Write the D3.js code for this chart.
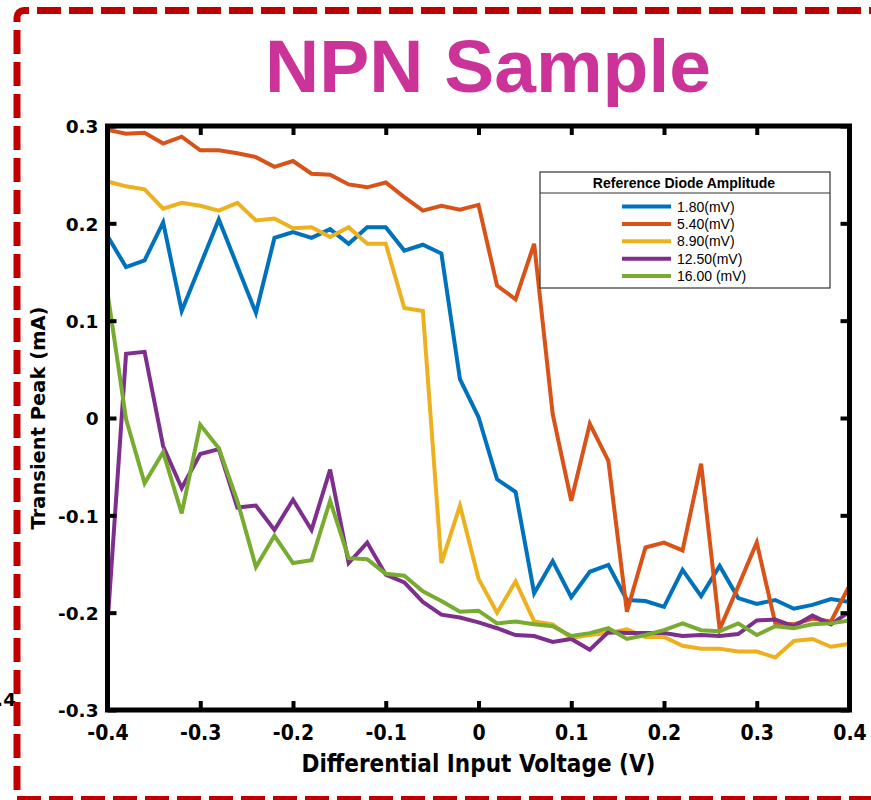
<!DOCTYPE html>
<html>
<head>
<meta charset="utf-8">
<title>NPN Sample</title>
<script src="https://cdn.jsdelivr.net/npm/d3@7/dist/d3.min.js"></script>
<style>
  html, body { margin: 0; padding: 0; background: #fff; }
  svg { display: block; }
</style>
</head>
<body>
<svg id="chart" width="871" height="800"></svg>
<script>
// Differential input voltage sweep (V)
const voltages = [
  -0.40, -0.38, -0.36, -0.34, -0.32, -0.30, -0.28, -0.26, -0.24, -0.22,
  -0.20, -0.18, -0.16, -0.14, -0.12, -0.10, -0.08, -0.06, -0.04, -0.02,
   0.00,  0.02,  0.04,  0.06,  0.08,  0.10,  0.12,  0.14,  0.16,  0.18,
   0.20,  0.22,  0.24,  0.26,  0.28,  0.30,  0.32,  0.34,  0.36,  0.38, 0.40
];

// Transient peak (mA) for each reference diode amplitude
const peak_1_80 = [
  0.187, 0.155, 0.162, 0.201, 0.110, 0.157, 0.204, 0.156, 0.108, 0.185,
  0.191, 0.185, 0.194, 0.179, 0.196, 0.196, 0.172, 0.178, 0.169, 0.040,
  0.001, -0.063, -0.076, -0.180, -0.147, -0.184, -0.158, -0.151, -0.187, -0.188,
  -0.194, -0.156, -0.183, -0.152, -0.185, -0.191, -0.187, -0.196, -0.192, -0.186, -0.189
];
const peak_5_40 = [
  0.296, 0.292, 0.293, 0.282, 0.289, 0.275, 0.275, 0.272, 0.268, 0.258,
  0.264, 0.251, 0.250, 0.240, 0.237, 0.242, 0.227, 0.213, 0.218, 0.214,
  0.219, 0.136, 0.122, 0.179, 0.004, -0.085, -0.006, -0.044, -0.199, -0.133,
  -0.128, -0.136, -0.047, -0.217, -0.173, -0.128, -0.211, -0.212, -0.206, -0.209, -0.172
];
const peak_8_90 = [
  0.243, 0.238, 0.235, 0.215, 0.221, 0.218, 0.213, 0.221, 0.203, 0.205,
  0.195, 0.196, 0.186, 0.196, 0.179, 0.179, 0.113, 0.110, -0.149, -0.090,
  -0.165, -0.200, -0.168, -0.209, -0.212, -0.226, -0.223, -0.221, -0.217, -0.225,
  -0.225, -0.234, -0.237, -0.237, -0.240, -0.240, -0.246, -0.229, -0.227, -0.235, -0.232
];
const peak_12_50 = [
  -0.212, 0.066, 0.068, -0.029, -0.072, -0.037, -0.032, -0.092, -0.090, -0.115,
  -0.084, -0.115, -0.053, -0.149, -0.128, -0.161, -0.169, -0.189, -0.202, -0.205,
  -0.210, -0.216, -0.223, -0.224, -0.230, -0.227, -0.238, -0.220, -0.221, -0.221,
  -0.221, -0.224, -0.223, -0.224, -0.222, -0.208, -0.207, -0.214, -0.203, -0.212, -0.199
];
const peak_16_00 = [
  0.129, -0.001, -0.067, -0.035, -0.098, -0.007, -0.031, -0.085, -0.153, -0.121,
  -0.149, -0.146, -0.085, -0.144, -0.145, -0.160, -0.162, -0.178, -0.188, -0.199,
  -0.198, -0.211, -0.209, -0.212, -0.214, -0.224, -0.221, -0.216, -0.227, -0.223,
  -0.218, -0.211, -0.218, -0.219, -0.211, -0.223, -0.214, -0.216, -0.212, -0.211, -0.208
];

const seriesLabels = ["1.80(mV)", "5.40(mV)", "8.90(mV)", "12.50(mV)", "16.00 (mV)"];
const seriesValues = [peak_1_80, peak_5_40, peak_8_90, peak_12_50, peak_16_00];
const seriesColors = ["#0072BD", "#D95319", "#EDB120", "#7E2F8E", "#77AC30"];

const xTicks = [-0.4, -0.3, -0.2, -0.1, 0, 0.1, 0.2, 0.3, 0.4];
const yTicks = [-0.3, -0.2, -0.1, 0, 0.1, 0.2, 0.3];

const titleText = "NPN Sample";
const xLabel = "Differential Input Voltage (V)";
const yLabel = "Transient Peak (mA)";
const legendTitle = "Reference Diode Amplitude";

// ---- layout ----
const svg = d3.select("#chart");
const plot = { left: 107.5, right: 849.5, top: 126, bottom: 710 };

const x = d3.scaleLinear().domain([-0.4, 0.4]).range([plot.left, plot.right]);
const y = d3.scaleLinear().domain([-0.3, 0.3]).range([plot.bottom, plot.top]);
const fmt = d => d === 0 ? "0" : d.toFixed(1);

const boldWide = "'DejaVu Sans', Verdana, sans-serif";
const boldNarrow = "'DejaVu Sans Condensed', 'DejaVu Sans', sans-serif";
const helv = "'Liberation Sans', Arial, Helvetica, sans-serif";

// stray tick label from a neighbouring panel, clipped by the page edge
svg.append("text")
  .attr("x", 16).attr("y", 706)
  .attr("text-anchor", "end")
  .attr("font-family", boldWide).attr("font-weight", "bold").attr("font-size", 18.5)
  .attr("fill", "#000")
  .text("-0.4");

// title
svg.append("text")
  .attr("x", 488).attr("y", 92)
  .attr("text-anchor", "middle")
  .attr("font-family", helv).attr("font-weight", "bold").attr("font-size", 75)
  .attr("fill", "#CC3399")
  .text(titleText);

// data lines
const line = d3.line()
  .x((d, i) => x(voltages[i]))
  .y(d => y(d));

const linesG = svg.append("g").attr("class", "series");
seriesValues.forEach((vals, k) => {
  linesG.append("path")
    .datum(vals)
    .attr("d", line)
    .attr("fill", "none")
    .attr("stroke", seriesColors[k])
    .attr("stroke-width", 4)
    .attr("stroke-linejoin", "miter")
    .attr("stroke-miterlimit", 4);
});

// axes (ticks drawn inward on all four sides)
const tickLen = 9;
const axisG = svg.append("g").attr("class", "axes");

const xBottom = d3.axisBottom(x).tickValues(xTicks).tickSize(-tickLen).tickFormat(fmt).tickPadding(0);
const xTop = d3.axisTop(x).tickValues(xTicks).tickSize(-tickLen).tickFormat("");
const yLeft = d3.axisLeft(y).tickValues(yTicks).tickSize(-tickLen).tickFormat(fmt).tickPadding(0);
const yRight = d3.axisRight(y).tickValues(yTicks).tickSize(-tickLen).tickFormat("");

function styleAxis(g) {
  g.select(".domain").remove();
  g.selectAll(".tick line").attr("stroke", "#000").attr("stroke-width", 4);
}

const gxb = axisG.append("g").attr("transform", `translate(0,${plot.bottom})`).call(xBottom).call(styleAxis);
gxb.selectAll(".tick text")
  .attr("y", 30).attr("dy", null)
  .attr("font-family", boldNarrow).attr("font-stretch", "condensed")
  .attr("font-weight", "bold").attr("font-size", 21).attr("fill", "#000");

axisG.append("g").attr("transform", `translate(0,${plot.top})`).call(xTop).call(styleAxis);

const gyl = axisG.append("g").attr("transform", `translate(${plot.left},0)`).call(yLeft).call(styleAxis);
gyl.selectAll(".tick text")
  .attr("x", -9).attr("dy", "0.36em")
  .attr("font-family", boldWide).attr("font-weight", "bold").attr("font-size", 18.5).attr("fill", "#000");

axisG.append("g").attr("transform", `translate(${plot.right},0)`).call(yRight).call(styleAxis);

// plot frame
axisG.append("rect")
  .attr("x", plot.left).attr("y", plot.top)
  .attr("width", plot.right - plot.left).attr("height", plot.bottom - plot.top)
  .attr("fill", "none").attr("stroke", "#000").attr("stroke-width", 5);

// axis titles
svg.append("text")
  .attr("x", (plot.left + plot.right) / 2).attr("y", 772)
  .attr("text-anchor", "middle")
  .attr("font-family", boldNarrow).attr("font-stretch", "condensed")
  .attr("font-weight", "bold").attr("font-size", 24).attr("fill", "#000")
  .text(xLabel);

svg.append("text")
  .attr("transform", `translate(45,${(plot.top + plot.bottom) / 2}) rotate(-90)`)
  .attr("text-anchor", "middle")
  .attr("font-family", boldWide).attr("font-weight", "bold").attr("font-size", 19.5).attr("fill", "#000")
  .text(yLabel);

// legend
const lg = { x: 540, y: 172, w: 290, h: 116, head: 21 };
const legend = svg.append("g").attr("class", "legend");
legend.append("rect")
  .attr("x", lg.x).attr("y", lg.y).attr("width", lg.w).attr("height", lg.h)
  .attr("fill", "#fff").attr("stroke", "#333").attr("stroke-width", 1.2);
legend.append("line")
  .attr("x1", lg.x).attr("x2", lg.x + lg.w)
  .attr("y1", lg.y + lg.head).attr("y2", lg.y + lg.head)
  .attr("stroke", "#333").attr("stroke-width", 1.2);
legend.append("text")
  .attr("x", lg.x + lg.w / 2 - 1).attr("y", lg.y + 15.5)
  .attr("text-anchor", "middle")
  .attr("font-family", helv).attr("font-weight", "bold").attr("font-size", 14).attr("fill", "#000")
  .text(legendTitle);

const rowY = d3.scalePoint().domain(seriesLabels).range([206.5, 276]);
seriesLabels.forEach((lab, k) => {
  const ry = rowY(lab);
  legend.append("line")
    .attr("x1", 622).attr("x2", 671)
    .attr("y1", ry).attr("y2", ry)
    .attr("stroke", seriesColors[k]).attr("stroke-width", 4);
  legend.append("text")
    .attr("x", 677).attr("y", ry).attr("dy", "0.36em")
    .attr("font-family", helv).attr("font-size", 14).attr("fill", "#000")
    .text(lab);
});

// dashed frame around the panel
const frame = svg.append("g").attr("class", "frame")
  .attr("fill", "none").attr("stroke", "#C00000").attr("stroke-width", 7);
frame.append("path").attr("d", "M17,22 L17,17.5 A7,7 0 0 1 24,10.5 L29,10.5");
frame.append("line").attr("x1", 37).attr("x2", 880).attr("y1", 10.5).attr("y2", 10.5)
  .attr("stroke-dasharray", "24 8");
frame.append("line").attr("x1", 17).attr("x2", 17).attr("y1", 30).attr("y2", 790)
  .attr("stroke-dasharray", "24 8");
frame.append("line").attr("x1", 17).attr("x2", 880).attr("y1", 799.5).attr("y2", 799.5)
  .attr("stroke-dasharray", "24 8");
</script>
</body>
</html>
